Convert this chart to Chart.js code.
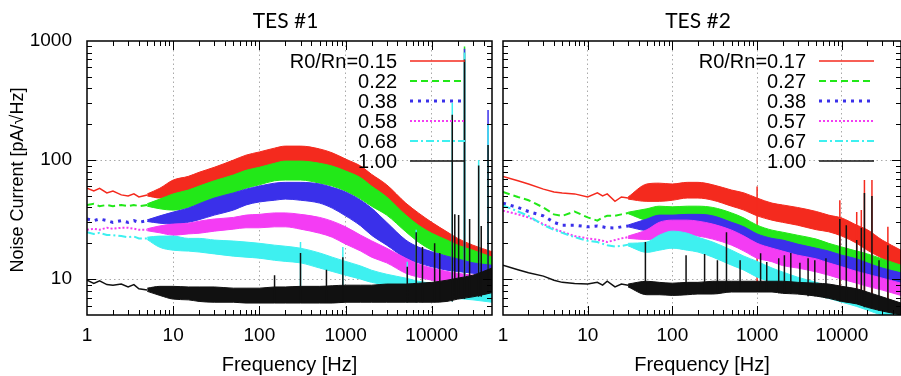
<!DOCTYPE html>
<html>
<head>
<meta charset="utf-8">
<title>TES noise current spectra</title>
<script src="https://cdn.jsdelivr.net/npm/chart.js@4.4.1/dist/chart.umd.min.js"></script>
<style>
  html, body { margin: 0; padding: 0; background: #fff; overflow: hidden; }
  #wrap { position: relative; width: 901px; height: 376px; overflow: hidden; }
  canvas { position: absolute; left: 0; top: 0; }
</style>
</head>
<body>
<div id="wrap">
  <canvas id="tes1" width="901" height="376"></canvas>
  <canvas id="tes2" width="910" height="376"></canvas>
</div>
<script>
// ---- axes ----
const xTickLabels = ['1', '10', '100', '1000', '10000'];
const yTickLabels = ['10', '100', '1000'];
const xRange = [1, 50000];
const yRange = [5, 1000];

// ---- TES #1 ----
const labels1 = ['R0/Rn=0.15', '0.22', '0.38', '0.58', '0.68', '1.00'];
const lowFreq1 = [1, 1.2, 1.4, 1.7, 2, 2.5, 3, 3.5, 4, 5];
const bandFreq1 = [5, 7, 10, 15, 20, 30, 50, 70, 100, 150, 200, 300, 500, 700, 1000, 1500, 2000, 3000, 5000, 7000, 10000, 15000, 20000, 30000, 50000];

const redLow1 = [58, 55, 58, 53, 55, 51, 50, 52, 49, 51];
const redHi1 = [52, 58, 68, 73, 79, 87, 100, 110, 117, 126, 131, 131, 124, 115, 102, 89, 76, 62, 43.5, 36, 30, 25, 22, 19.3, 17];
const redLo1 = [50, 48, 49, 52, 54, 58, 65, 71, 76, 82, 86, 86, 81, 75, 67, 57, 50, 41, 30, 25, 21, 17.5, 15.6, 14, 12.4];

const greenLow1 = [42, 43, 41, 42, 41, 42, 41, 42, 41, 42];
const greenHi1 = [43, 47, 52, 56, 60.5, 67, 75, 82, 87, 94, 98, 98, 94, 89, 81, 71, 60.5, 49, 34.5, 28.4, 24.3, 21.3, 19.3, 17.5, 15.3];
const greenLo1 = [41, 39, 38, 40, 43, 46, 53, 58, 62, 67, 68, 68, 64, 60.5, 55, 47, 41, 34.5, 25, 20.5, 17.5, 15.6, 14.4, 13.1, 11.9];
const greenSpikeF1 = [24000];
const greenSpikeV1 = [900];

const blueLow1 = [32, 31, 32, 31, 30, 31, 30, 31, 30, 31];
const blueHi1 = [31.5, 34, 36.6, 39.5, 43, 48, 53, 57, 60.5, 64, 65, 65, 63, 59, 54, 46, 39.5, 30, 21.3, 18.6, 17, 15.6, 14.8, 13.7, 13.1];
const blueLo1 = [30.5, 29.5, 29, 30, 31.6, 34.5, 38, 42, 44.5, 46, 47, 46, 43.5, 39.5, 34, 28, 23.4, 19.3, 15, 13.7, 12.7, 11.9, 11.6, 11.2, 10.8];
const blueSpikeF1 = [24000, 45000];
const blueSpikeV1 = [860, 263];

const magentaLow1 = [26, 26.5, 26, 27, 26.5, 27, 27, 26.5, 26, 26];
const magentaHi1 = [26.5, 28, 29, 29.5, 30.7, 32, 33, 34.5, 35, 36, 36, 35, 33, 30.7, 27.5, 23.4, 21, 18.2, 15, 13.4, 12.4, 11.6, 11.2, 10.8, 10.6];
const magentaLo1 = [25.5, 24.5, 23.4, 24, 24.3, 25.3, 26.3, 27, 27, 27.5, 27.5, 26.3, 24.3, 22.5, 19.7, 17.2, 15.3, 13.7, 11.2, 10.4, 9.8, 9.25, 8.9, 8.6, 8.4];

const cyanLow1 = [24.8, 24, 24.5, 23.5, 23.4, 23, 22.5, 22.8, 22, 22];
const cyanHi1 = [22.5, 23, 23, 22, 22, 21.3, 20.9, 20.5, 20, 19.3, 18.9, 18.2, 16.6, 15.3, 14.1, 12.9, 11.9, 11, 10.2, 9.6, 9.25, 8.9, 8.6, 8.3, 8.0];
const cyanLo1 = [21.5, 18.5, 17.5, 17.2, 16.9, 16.3, 15.6, 15.3, 15, 14.4, 14.1, 13.7, 12.4, 11.6, 10.8, 10, 9.4, 8.9, 8.3, 7.8, 7.5, 7.2, 6.9, 6.7, 6.4];
const cyanSpikeF1 = [300, 930, 5200, 6600, 17300, 24000, 35000, 45000];
const cyanSpikeV1 = [20.5, 18.6, 14, 26, 302, 800, 100, 200];

const blackLow1 = [9.8, 9.2, 9.7, 9.0, 8.9, 9.1, 8.6, 9.0, 8.3, 8.1];
const blackHi1 = [8.4, 8.7, 8.7, 8.6, 8.6, 8.6, 8.4, 8.4, 8.4, 8.6, 8.6, 8.7, 8.7, 8.8, 8.9, 8.9, 8.9, 9.1, 9.1, 9.25, 9.4, 9.8, 10.2, 10.8, 12.4];
const blackLo1 = [7.9, 7.3, 6.8, 6.7, 6.5, 6.4, 6.4, 6.3, 6.3, 6.3, 6.3, 6.3, 6.3, 6.3, 6.4, 6.4, 6.4, 6.4, 6.4, 6.4, 6.4, 6.5, 6.8, 7.1, 7.7];
const blackSpikeF1 = [150, 300, 600, 930, 5200, 6600, 7800, 10800, 12400, 17300, 18500, 20500, 24000, 27500, 35000, 37500, 45000];
const blackSpikeV1 = [10.8, 16.6, 12, 15.3, 12.7, 24.8, 18.6, 20, 16.6, 240, 35, 34.6, 700, 32, 90, 28, 134];

// ---- TES #2 ----
const labels2 = ['R0/Rn=0.17', '0.27', '0.38', '0.57', '0.67', '1.00'];
const lowFreq2 = [1, 1.5, 2, 3, 4, 5, 7, 10, 13, 15, 17, 21, 25, 30];
const bandFreq2 = [30, 50, 70, 100, 150, 200, 300, 500, 700, 1000, 1500, 2000, 3000, 5000, 7000, 10000, 15000, 20000, 30000, 50000];

const redLow2 = [73, 67, 63, 57, 54, 53, 52, 49, 53, 50, 52, 45, 49, 48];
const redHi2 = [49, 63, 64, 63, 65, 65, 62, 56, 53, 48, 43.5, 42, 40, 37, 34.5, 32.6, 28.4, 26, 21.3, 17.5];
const redLo2 = [47, 45, 45, 46, 48, 48, 46, 41, 38, 34, 31.3, 30, 28.4, 26, 25, 23, 20, 17.5, 15, 12.4];
const redSpikeF2 = [1000, 9480, 15000, 17000, 18500, 22700, 35000];
const redSpikeV2 = [60, 46, 36.6, 38, 68, 68, 27.5];

const greenLow2 = [54, 49, 46, 40, 35, 34, 37, 33, 31, 33, 34, 34, 35, 36];
const greenHi2 = [36.5, 39, 41, 40.5, 41, 41, 40, 36, 32.6, 28.4, 25.8, 24.8, 23.4, 21.7, 20, 18.6, 17.2, 16.3, 14.8, 13.1];
const greenLo2 = [35.5, 31, 30, 30, 31, 31, 29.5, 27, 24.8, 21.3, 20, 19.3, 18.2, 16.9, 16, 15, 13.7, 12.7, 11.5, 10.2];

const blueLow2 = [43.5, 40, 37, 34, 30, 28.4, 28.4, 27.5, 28, 27.5, 27, 26.9, 27.5, 28];
const blueHi2 = [28.5, 32, 34.5, 34.5, 35, 35, 34, 30, 27.5, 24, 22, 21.3, 19.7, 18.2, 17.2, 15.9, 14.8, 13.7, 12.4, 11.3];
const blueLo2 = [27.5, 25.5, 25.3, 24.8, 25.3, 25.3, 24.3, 22, 20, 17.5, 16.6, 15.9, 15, 14, 13, 12.4, 11.5, 10.6, 9.6, 8.6];

const magentaLow2 = [37.6, 35, 33, 29, 26.5, 25, 23, 22, 21.5, 21, 20.5, 21.3, 22, 22.5];
const magentaHi2 = [23, 26, 30, 31.3, 31.3, 30.7, 29, 25.8, 23, 20, 18.2, 17.2, 15.9, 14.8, 13.7, 12.7, 11.6, 11, 10.2, 9.25];
const magentaLo2 = [22, 21.5, 22, 23.4, 23.4, 23, 21.7, 19.3, 17.2, 15, 14, 13, 12.4, 11.5, 10.8, 10, 9.25, 8.7, 8.1, 7.3];

const cyanLow2 = [41.7, 37, 34, 28.4, 26, 24.5, 22.5, 21, 20.5, 19.8, 19.3, 18.8, 19, 19.5];
const cyanHi2 = [20, 20.5, 23.4, 25.3, 24.3, 22.5, 20.5, 17.5, 15.6, 14.1, 12.4, 11.5, 10.4, 9.4, 8.7, 8.1, 7.3, 6.8, 6.2, 5.5];
const cyanLo2 = [19, 16.8, 17.5, 18.2, 17.5, 16.9, 15.3, 13.1, 11.9, 10.4, 9.4, 8.7, 8.1, 7.3, 6.9, 6.4, 5.9, 5.5, 5, 4.8];

const blackLow2 = [13.1, 12, 11.3, 10.6, 9.8, 9.4, 9.2, 9.1, 9.4, 8.9, 9.6, 8.6, 9.1, 8.9];
const blackHi2 = [9.1, 9.6, 9.4, 9.25, 9.4, 9.4, 9.6, 9.6, 9.6, 9.6, 9.6, 9.6, 9.4, 9.25, 9.1, 8.7, 8.3, 7.8, 7.1, 6.3];
const blackLo2 = [8.6, 7.4, 7.4, 7.3, 7.4, 7.5, 7.5, 7.8, 7.8, 7.8, 7.8, 7.6, 7.5, 7.2, 6.9, 6.5, 6.2, 5.8, 5.4, 5];
const blackSpikeF2 = [48, 145, 240, 340, 435, 630, 1100, 1300, 1800, 2100, 2500, 3200, 4000, 4800, 6500, 9480, 11300, 15000, 17000, 18500, 22700, 27500, 35000];
const blackSpikeV2 = [20.5, 15.9, 16.3, 14.4, 24.8, 14.4, 16.5, 13.9, 15, 15.9, 16.6, 13.7, 15, 14.4, 15, 32, 28.4, 21.3, 27, 53, 50, 14.4, 19.3];

// ---- styles (gnuplot-like) ----
const COLORS = ['#f42a1e', '#22e818', '#3a30ea', '#f43cf4', '#3ef0f0', '#111111'];
const DASHES = [[], [7, 4], [3, 5], [2, 2], [8, 3, 2, 3], []];
const LINE_W = [1.5, 2, 3, 2, 2, 1.5];
const FONT = '"Liberation Sans", Arial, Helvetica, sans-serif';

function xy(fs, vs) {
  return fs.map((f, i) => ({ x: f, y: vs[i] }));
}

// vertical spikes: from the black band floor (nearest sampled frequency) up to the peak
function spikeData(fs, vs, bandF, floor) {
  const out = [];
  fs.forEach((f, i) => {
    let k = 0;
    bandF.forEach((b, j) => {
      if (Math.abs(Math.log(b / f)) < Math.abs(Math.log(bandF[k] / f))) k = j;
    });
    out.push({ x: f, y: floor[k] }, { x: f, y: vs[i] }, { x: f, y: null });
  });
  return out;
}

function buildDatasets(panel) {
  const sets = [];
  panel.series.forEach((s, i) => {
    const c = COLORS[i];
    sets.push({ data: xy(panel.bandF, s.lo), borderColor: c, borderWidth: 1, fill: false, cubicInterpolationMode: 'monotone' });
    sets.push({ data: xy(panel.bandF, s.hi), borderColor: c, borderWidth: 1, backgroundColor: c, fill: '-1', cubicInterpolationMode: 'monotone' });
    sets.push({ data: xy(panel.lowF, s.low), borderColor: c, borderWidth: LINE_W[i], borderDash: DASHES[i], fill: false, tension: 0 });
    if (s.spikeF) {
      sets.push({ data: spikeData(s.spikeF, s.spikeV, panel.bandF, panel.floor), borderColor: c, borderWidth: 1.5, fill: false, tension: 0 });
    }
  });
  // later datasets are drawn on top (black over cyan over ... over red)
  sets.forEach((d, i) => { d.order = sets.length - i; d.pointRadius = 0; });
  return sets;
}

const isDecade = v => v > 0 && Math.abs(Math.log10(v) - Math.round(Math.log10(v))) < 1e-9;

// inward gnuplot ticks, frame, legend and texts
const framePlugin = {
  id: 'frame',
  afterDraw(chart, args, opts) {
    const { ctx, chartArea: a } = chart;
    const xs = chart.scales.x, ys = chart.scales.y;
    ctx.save();
    ctx.strokeStyle = '#000';
    ctx.lineWidth = 1;
    ctx.beginPath();
    for (let d = 1; d <= xRange[1]; d *= 10) {
      for (let m = 1; m < 10; m++) {
        const v = d * m;
        if (v <= xRange[0] || v >= xRange[1]) continue;
        const px = Math.round(xs.getPixelForValue(v)) + 0.5;
        const len = m === 1 ? 9 : 5;
        ctx.moveTo(px, a.bottom); ctx.lineTo(px, a.bottom - len);
        ctx.moveTo(px, a.top); ctx.lineTo(px, a.top + len);
      }
    }
    for (let d = 1; d <= yRange[1]; d *= 10) {
      for (let m = 1; m < 10; m++) {
        const v = d * m;
        if (v <= yRange[0] || v >= yRange[1]) continue;
        const py = Math.round(ys.getPixelForValue(v)) + 0.5;
        const len = m === 1 ? 9 : 5;
        ctx.moveTo(a.left, py); ctx.lineTo(a.left + len, py);
        ctx.moveTo(a.right, py); ctx.lineTo(a.right - len, py);
      }
    }
    ctx.stroke();
    ctx.lineWidth = 1.5;
    ctx.strokeRect(a.left, a.top, a.right - a.left, a.bottom - a.top);

    // legend: right-aligned text with the sample to its right
    ctx.font = '20px ' + FONT;
    ctx.fillStyle = '#000';
    ctx.textAlign = 'right';
    ctx.textBaseline = 'middle';
    opts.labels.forEach((t, i) => {
      const y = a.top + 20 + 20 * i;
      ctx.fillText(t, a.right - 95, y + 1);
      ctx.save();
      ctx.strokeStyle = COLORS[i];
      ctx.lineWidth = LINE_W[i];
      ctx.setLineDash(DASHES[i]);
      ctx.beginPath();
      ctx.moveTo(a.right - 82, y);
      ctx.lineTo(a.right - 27, y);
      ctx.stroke();
      ctx.restore();
    });

    const cx = (a.left + a.right) / 2;
    ctx.textAlign = 'center';
    ctx.textBaseline = 'alphabetic';
    ctx.fillText('Frequency [Hz]', cx, 371);
    ctx.font = '21px Lato, "Open Sans", sans-serif';
    ctx.fillText(opts.title, cx - 4, 28);
    if (opts.yTitle) {
      ctx.font = '18px ' + FONT;
      ctx.translate(18, 180);
      ctx.rotate(-Math.PI / 2);
      ctx.textBaseline = 'middle';
      ctx.fillText(opts.yTitle, 0, 0);
    }
    ctx.restore();
  }
};

function makeChart(id, panel) {
  const canvas = document.getElementById(id);
  const gridColor = (lo, hi) => c => {
    const v = c.tick ? c.tick.value : NaN;
    return isDecade(v) && v > lo && v < hi ? '#aaaaaa' : 'rgba(0,0,0,0)';
  };
  const xVals = xTickLabels.map(Number);
  const yVals = yTickLabels.map(Number);
  return new Chart(canvas, {
    type: 'line',
    data: { datasets: buildDatasets(panel) },
    plugins: [framePlugin],
    options: {
      responsive: false,
      animation: false,
      events: [],
      layout: { padding: { left: 0, top: 41, bottom: 0, right: canvas.width - panel.right } },
      elements: { point: { radius: 0 } },
      plugins: {
        legend: { display: false },
        tooltip: { enabled: false },
        frame: { labels: panel.labels, title: panel.title, yTitle: panel.yTitle }
      },
      scales: {
        x: {
          type: 'logarithmic',
          min: xRange[0],
          max: xRange[1],
          afterFit: s => { s.height = canvas.height - 315; },
          grid: { drawTicks: false, lineWidth: 1, color: gridColor(xRange[0], xRange[1]) },
          border: { display: false, dash: [1.5, 3] },
          ticks: {
            autoSkip: false,
            maxRotation: 0,
            minRotation: 0,
            padding: 9,
            color: '#000',
            font: { family: FONT, size: 19 },
            callback: v => (xVals.includes(v) ? xTickLabels[xVals.indexOf(v)] : '')
          }
        },
        y: {
          type: 'logarithmic',
          min: yRange[0],
          max: yRange[1],
          afterFit: s => { s.width = panel.left; },
          grid: { drawTicks: false, lineWidth: 1, color: gridColor(yRange[0], yRange[1]) },
          border: { display: false, dash: [1.5, 3] },
          ticks: {
            display: panel.showY,
            autoSkip: false,
            padding: 15,
            color: '#000',
            font: { family: FONT, size: 19 },
            callback: v => (yVals.includes(v) ? yTickLabels[yVals.indexOf(v)] : '')
          }
        }
      }
    }
  });
}

makeChart('tes1', {
  title: 'TES #1',
  yTitle: 'Noise Current [pA/\u221AHz]',
  showY: true,
  left: 87,
  right: 492,
  labels: labels1,
  lowF: lowFreq1,
  bandF: bandFreq1,
  floor: blackLo1,
  series: [
    { low: redLow1, hi: redHi1, lo: redLo1 },
    { low: greenLow1, hi: greenHi1, lo: greenLo1, spikeF: greenSpikeF1, spikeV: greenSpikeV1 },
    { low: blueLow1, hi: blueHi1, lo: blueLo1, spikeF: blueSpikeF1, spikeV: blueSpikeV1 },
    { low: magentaLow1, hi: magentaHi1, lo: magentaLo1 },
    { low: cyanLow1, hi: cyanHi1, lo: cyanLo1, spikeF: cyanSpikeF1, spikeV: cyanSpikeV1 },
    { low: blackLow1, hi: blackHi1, lo: blackLo1, spikeF: blackSpikeF1, spikeV: blackSpikeV1 }
  ]
});

makeChart('tes2', {
  title: 'TES #2',
  yTitle: null,
  showY: false,
  left: 503,
  right: 906,
  labels: labels2,
  lowF: lowFreq2,
  bandF: bandFreq2,
  floor: blackLo2,
  series: [
    { low: redLow2, hi: redHi2, lo: redLo2, spikeF: redSpikeF2, spikeV: redSpikeV2 },
    { low: greenLow2, hi: greenHi2, lo: greenLo2 },
    { low: blueLow2, hi: blueHi2, lo: blueLo2 },
    { low: magentaLow2, hi: magentaHi2, lo: magentaLo2 },
    { low: cyanLow2, hi: cyanHi2, lo: cyanLo2 },
    { low: blackLow2, hi: blackHi2, lo: blackLo2, spikeF: blackSpikeF2, spikeV: blackSpikeV2 }
  ]
});
</script>
</body>
</html>
